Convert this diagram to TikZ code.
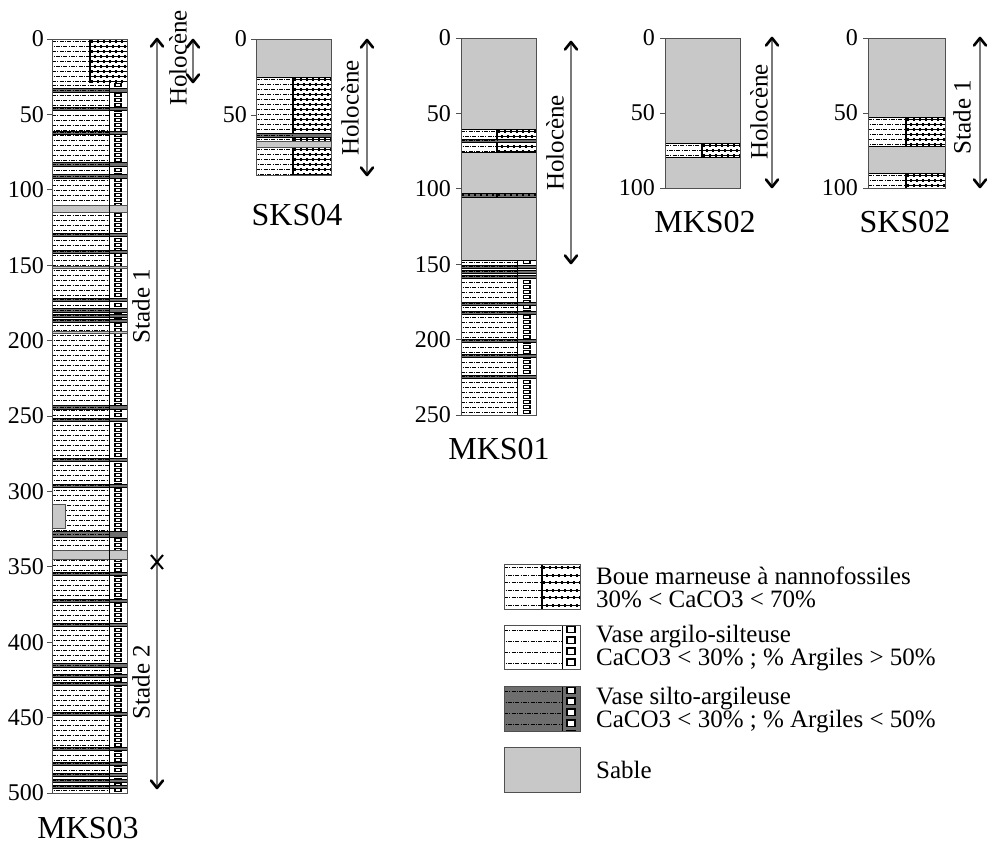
\documentclass[tikz,border=0pt]{standalone}
\usepackage{fontspec}
\setmainfont{Liberation Serif}
\usetikzlibrary{calc}
\definecolor{sandc}{HTML}{C8C8C8}
\definecolor{darkc}{HTML}{6E6E6E}
\definecolor{shaftc}{HTML}{7A7A7A}
\definecolor{outc}{HTML}{505050}

% dash-dot rows: x1 x2 y1 y2 spacing
\newcommand\ddrows[5]{%
 \begin{scope}
 \clip (#1,#3) rectangle (#2,#4);
 \pgfmathtruncatemacro\nrows{(#4-#3)/#5}
 \foreach \k in {0,...,\nrows}{
  \pgfmathsetmacro\yy{#3+#5/2+#5*\k}
  \draw[line width=0.9pt, dash pattern=on 4pt off 1.3pt on 1pt off 1.3pt] ({#1-3.8*mod(\k,2)},\yy) -- (#2,\yy);
 }
 \end{scope}}
% boue rows: x1 x2 y1 y2 spacing
\newcommand\bouerows[5]{%
 \begin{scope}
 \clip (#1,#3) rectangle (#2,#4);
 \pgfmathtruncatemacro\nrows{(#4-#3)/#5}
 \foreach \k in {0,...,\nrows}{
  \pgfmathsetmacro\yy{#3+#5/2+#5*\k}
  \draw[line width=0.7pt] (#1,\yy) -- (#2,\yy);
  \draw[line width=2.8pt, dash pattern=on 2.4pt off 3.6pt] ({#1+1-3*mod(\k,2)},\yy) -- (#2,\yy);
 }
 \end{scope}}
% ladder of hollow squares: x1 x2 y1 y2
\newcommand\ladder[4]{%
 \begin{scope}
 \clip (#1,#3) rectangle (#2,#4);
 \draw[line width=8pt, dash pattern=on 3.6pt off 1.4pt] ({(#1+#2)/2},#3) -- ({(#1+#2)/2},#4);
 \draw[white, line width=4.4pt, dash pattern=on 1.6pt off 3.4pt, dash phase=4pt] ({(#1+#2)/2},#3) -- ({(#1+#2)/2},#4);
 \end{scope}}
\newcommand\ladderL[4]{%
 \begin{scope}
 \clip (#1,#3) rectangle (#2,#4);
 \draw[line width=10pt, dash pattern=on 8pt off 3pt] ({(#1+#2)/2},#3) -- ({(#1+#2)/2},#4);
 \draw[white, line width=6pt, dash pattern=on 5pt off 6pt, dash phase=9.5pt] ({(#1+#2)/2},#3) -- ({(#1+#2)/2},#4);
 \end{scope}}
% boue layer: x1 xdiv x2 y1 y2
\newcommand\boueL[5]{%
 \fill[white] (#1,#4) rectangle (#3,#5);
 \ddrows{#1}{#2}{#4}{#5}{5}
 \bouerows{#2}{#3}{#4}{#5}{5}
 \draw[line width=1.8pt] (#2,#4) -- (#2,#5);
 \draw[line width=0.8pt] (#1,#4) -- (#3,#4) (#1,#5) -- (#3,#5);}
% vase layer: x1 xin x2 y1 y2
\newcommand\vaseL[5]{%
 \fill[white] (#1,#4) rectangle (#3,#5);
 \ddrows{#1}{#2}{#4}{#5}{5}
 \ladder{#2}{#3}{#4}{#5}}
% dark band: x1 xin x2 y1 y2
\newcommand\darkB[5]{%
 \fill[darkc] (#1,#4) rectangle (#3,#5);
 \draw[line width=0.8pt] (#1,#4) -- (#3,#4) (#1,#5) -- (#3,#5);
 \draw[line width=1pt, dash pattern=on 4pt off 1.3pt on 1pt off 1.3pt] (#1,{(#4+#5)/2}) -- (#2,{(#4+#5)/2});}
% sand band: x1 x2 y1 y2
\newcommand\sandB[4]{%
 \fill[sandc] (#1,#3) rectangle (#2,#4);
 \draw[outc, line width=0.5pt] (#1,#3) -- (#2,#3) (#1,#4) -- (#2,#4);}
% arrow heads at a named coordinate
\newcommand\uphead[1]{\draw[black, line width=2.6pt, line cap=round, line join=round] ($(#1)+(-6,7.5)$) -- (#1) -- ($(#1)+(6,7.5)$);}
\newcommand\downhead[1]{\draw[black, line width=2.6pt, line cap=round, line join=round] ($(#1)+(-6,-7.5)$) -- (#1) -- ($(#1)+(6,-7.5)$);}

\begin{document}
\begin{tikzpicture}[x=1pt,y=-1pt,
  num/.style={font=\fontsize{24}{24}\selectfont, inner sep=0pt, anchor=east},
  ttl/.style={font=\fontsize{32}{32}\selectfont, inner sep=0pt},
  rot/.style={font=\fontsize{25}{25}\selectfont, inner sep=0pt, rotate=90},
  leg/.style={font=\fontsize{25}{23}\selectfont, inner sep=0pt, anchor=west, align=left},
  outl/.style={draw=outc, line width=0.9pt},
  tick/.style={draw=outc, line width=0.7pt},
  age/.style={draw=shaftc, line width=1.2pt}]
\useasboundingbox (0,0) rectangle (988,844);
\fill[white] (0,0) rectangle (988,844);

% ================= MKS03 =================
\boueL{52}{90}{127}{39}{83}
\vaseL{52}{109}{127}{83}{793}
\foreach \a/\b in {88/92,107/110,131/134,162/166,174/178,233/236,250/253,298/301,308/312,314/317,319/322,405/409,418/421,458/461,484/487,531/537,572/575,599/602,623/626,663/667,674/677,682/685,712/715,747/750,762/765,773/776,779/782,785/788}{\darkB{52}{109}{127}{\a}{\b}}
\sandB{52}{127}{205}{212}
\sandB{52}{127}{266}{268.5}
\sandB{52}{127}{331}{333.5}
\sandB{52}{127}{550}{559}
\filldraw[fill=sandc, draw=outc, line width=0.6pt] (52,504) rectangle (65,528);
\draw[line width=0.9pt] (109,83) -- (109,793);
\draw[outl] (52,39) rectangle (127,793);
\foreach \d in {0,50,...,500}{
  \draw[tick] (47,{39+1.508*\d}) -- (52,{39+1.508*\d});
  \node[num] (m3n\d) at (44,{39+1.508*\d}) {\d};}
\node[ttl] (m3t) at (88,828) {MKS03};
\coordinate (m3a) at (157,39);
\coordinate (m3x) at (157,562);
\coordinate (m3b) at (157,788);
\draw[age] (m3a) -- (m3x) -- (m3b);
\uphead{m3a}\downhead{m3b}
\draw[line width=2pt] (151,555) -- (163,569) (151,569) -- (163,555);
\coordinate (m3ha) at (193,40);
\coordinate (m3hb) at (193,82);
\draw[age] (m3ha) -- (m3hb);
\uphead{m3ha}\downhead{m3hb}
\node[rot] (m3h) at (178,58) {Holocène};
\node[rot] (m3s1) at (141,306) {Stade 1};
\node[rot] (m3s2) at (141,682) {Stade 2};

% ================= SKS04 =================
\sandB{256}{331}{39}{77}
\boueL{256}{293}{331}{77}{175}
\darkB{256}{293}{331}{133}{137}
\sandB{256}{331}{141}{147}
\draw[outl] (256,39) rectangle (331,175);
\foreach \d in {0,50}{
  \draw[tick] (251,{39+1.52*\d}) -- (256,{39+1.52*\d});
  \node[num] (s4n\d) at (247,{39+1.52*\d}) {\d};}
\node[ttl] (s4t) at (297,215) {SKS04};
\coordinate (s4a) at (367,40);
\coordinate (s4b) at (367,175);
\draw[age] (s4a) -- (s4b);
\uphead{s4a}\downhead{s4b}
\node[rot] (s4h) at (350,108) {Holocène};

% ================= MKS01 =================
\sandB{461}{536}{38}{260}
\boueL{461}{497}{536}{129}{152}
\darkB{461}{497}{536}{139.5}{142}
\fill[darkc] (461,193) rectangle (536,197);
\draw[line width=0.6pt] (461,193) -- (536,193) (461,197) -- (536,197);
\draw[line width=2.6pt, dash pattern=on 2.4pt off 3.6pt] (462,195) -- (536,195);
\draw[line width=1.6pt] (497,193) -- (497,197);
\vaseL{461}{517}{536}{260}{415}
\draw[line width=0.8pt] (461,260) -- (536,260);
\foreach \a/\b in {265/268,270/273,275/278,302/305,311/314,339/342,354/357,375/378}{\darkB{461}{517}{536}{\a}{\b}}
\draw[line width=0.9pt] (517,260) -- (517,415);
\draw[outl] (461,38) rectangle (536,415);
\foreach \d in {0,50,...,250}{
  \draw[tick] (456,{38+1.508*\d}) -- (461,{38+1.508*\d});
  \node[num] (m1n\d) at (451,{38+1.508*\d}) {\d};}
\node[ttl] (m1t) at (499,449) {MKS01};
\coordinate (m1a) at (571,42);
\coordinate (m1b) at (571,263);
\draw[age] (m1a) -- (m1b);
\uphead{m1a}\downhead{m1b}
\node[rot] (m1h) at (555,143) {Holocène};

% ================= MKS02 =================
\sandB{665}{740}{38}{188}
\boueL{665}{702}{740}{143}{157}
\draw[outl] (665,38) rectangle (740,188);
\foreach \d in {0,50,100}{
  \draw[tick] (660,{38+1.5*\d}) -- (665,{38+1.5*\d});
  \node[num] (m2n\d) at (655,{38+1.5*\d}) {\d};}
\node[ttl] (m2t) at (705,222) {MKS02};
\coordinate (m2a) at (772,38);
\coordinate (m2b) at (772,187);
\draw[age] (m2a) -- (m2b);
\uphead{m2a}\downhead{m2b}
\node[rot] (m2h) at (759,112) {Holocène};

% ================= SKS02 =================
\sandB{868}{945}{38}{188}
\boueL{868}{906}{945}{117}{146}
\boueL{868}{906}{945}{173}{188}
\draw[outl] (868,38) rectangle (945,188);
\foreach \d in {0,50,100}{
  \draw[tick] (863,{38+1.5*\d}) -- (868,{38+1.5*\d});
  \node[num] (s2n\d) at (858,{38+1.5*\d}) {\d};}
\node[ttl] (s2t) at (905,222) {SKS02};
\coordinate (s2a) at (980,38);
\coordinate (s2b) at (980,187);
\draw[age] (s2a) -- (s2b);
\uphead{s2a}\downhead{s2b}
\node[rot] (s2h) at (962,117) {Stade 1};

% ================= Legend =================
% box 1
\fill[white] (504,564) rectangle (580,609);
\ddrows{504}{542}{564}{609}{7.5}
\bouerows{542}{580}{564}{609}{7.5}
\draw[line width=1.8pt] (542,564) -- (542,609);
\draw[outl] (504,564) rectangle (580,609);
% box 2
\ddrows{504}{562}{625}{669}{11}
\ladderL{562}{580}{625}{669}
\draw[line width=0.9pt] (562,625) -- (562,669);
\draw[outl] (504,625) rectangle (580,669);
% box 3
\fill[darkc] (504,686) rectangle (580,731);
\ddrows{504}{562}{686}{731}{11}
\ladderL{562}{580}{686}{731}
\draw[line width=0.9pt] (562,686) -- (562,731);
\draw[outl] (504,686) rectangle (580,731);
% box 4
\filldraw[fill=sandc, draw=outc, line width=0.9pt] (504,747) rectangle (580,792);
\node[leg] (l1) at (596,587) {Boue marneuse à nannofossiles\\30\% < CaCO3 < 70\%};
\node[leg] (l2) at (596,648) {Vase argilo-silteuse\\CaCO3 < 30\% ; \% Argiles > 50\%};
\node[leg] (l3) at (596,710) {Vase silto-argileuse\\CaCO3 < 30\% ; \% Argiles < 50\%};
\node[leg] (l4) at (596,770) {Sable};
\end{tikzpicture}
\end{document}
